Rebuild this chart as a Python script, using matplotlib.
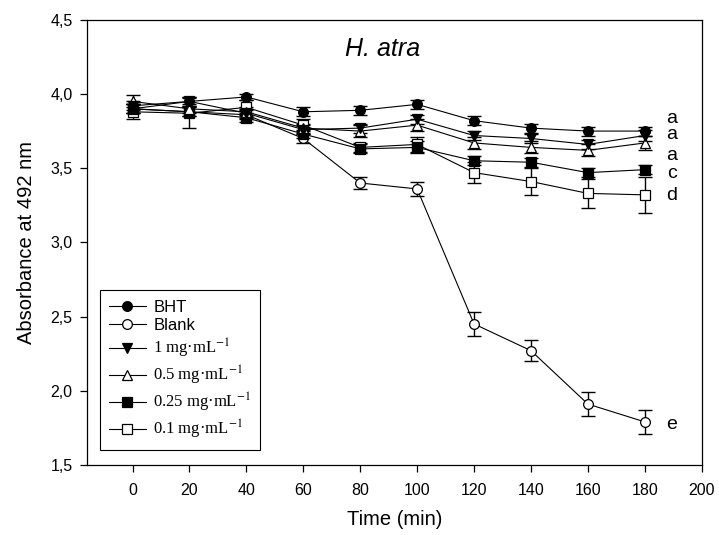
import matplotlib
matplotlib.use("Agg")
import matplotlib.pyplot as plt
import numpy as np

plt.rcParams["font.family"] = ["Liberation Sans", "DejaVu Sans"]
plt.rcParams["mathtext.fontset"] = "stix"

time_min = [0, 20, 40, 60, 80, 100, 120, 140, 160, 180]

bht = [3.90, 3.95, 3.98, 3.88, 3.89, 3.93, 3.82, 3.77, 3.75, 3.75]
blank = [3.90, 3.88, 3.86, 3.70, 3.40, 3.36, 2.45, 2.27, 1.91, 1.79]
mg_1 = [3.92, 3.95, 3.87, 3.76, 3.77, 3.83, 3.72, 3.70, 3.66, 3.72]
mg_05 = [3.95, 3.90, 3.88, 3.77, 3.75, 3.79, 3.67, 3.64, 3.62, 3.67]
mg_025 = [3.90, 3.88, 3.84, 3.73, 3.63, 3.64, 3.55, 3.54, 3.47, 3.49]
mg_01 = [3.88, 3.87, 3.91, 3.79, 3.64, 3.66, 3.47, 3.41, 3.33, 3.32]

bht_err = [0.03, 0.03, 0.02, 0.03, 0.03, 0.03, 0.03, 0.03, 0.03, 0.03]
blank_err = [0.03, 0.03, 0.03, 0.03, 0.04, 0.05, 0.08, 0.07, 0.08, 0.08]
mg_1_err = [0.03, 0.03, 0.03, 0.03, 0.03, 0.03, 0.03, 0.03, 0.03, 0.04]
mg_05_err = [0.04, 0.03, 0.03, 0.03, 0.04, 0.04, 0.04, 0.04, 0.04, 0.05]
mg_025_err = [0.03, 0.03, 0.03, 0.03, 0.03, 0.04, 0.03, 0.03, 0.03, 0.03]
mg_01_err = [0.05, 0.10, 0.05, 0.04, 0.03, 0.05, 0.07, 0.09, 0.10, 0.12]

labels = ["BHT", "Blank", "1 mg·mL$^{-1}$", "0.5 mg·mL$^{-1}$",
          "0.25 mg·mL$^{-1}$", "0.1 mg·mL$^{-1}$"]
markers = ["o", "o", "v", "^", "s", "s"]
face = ["black", "white", "black", "white", "black", "white"]

letters = ["a", "a", "a", "c", "d", "e"]
letter_y = [3.835, 3.73, 3.585, 3.465, 3.315, 1.77]

yticks = [1.5, 2.0, 2.5, 3.0, 3.5, 4.0, 4.5]
xticks = list(range(0, 201, 20))

series = [bht, blank, mg_1, mg_05, mg_025, mg_01]
errors = [bht_err, blank_err, mg_1_err, mg_05_err, mg_025_err, mg_01_err]

fig = plt.figure(figsize=(7.19, 5.35), dpi=100)
ax = fig.add_axes([0.121, 0.131, 0.855, 0.832])

order = [1, 5, 4, 3, 2, 0]
handles = {}
for i in order:
    ax.errorbar(time_min, series[i], yerr=errors[i], fmt="none", ecolor="black",
                elinewidth=1.0, capsize=5, capthick=1.0, zorder=2)
    (h,) = ax.plot(time_min, series[i], color="black", lw=0.8, marker=markers[i],
                   markersize=7, markerfacecolor=face[i], markeredgecolor="black",
                   markeredgewidth=0.9, zorder=3)
    handles[i] = h

leg = ax.legend([handles[i] for i in range(6)], labels, loc="lower left",
                bbox_to_anchor=(0.021, 0.034), borderaxespad=0, fancybox=False,
                edgecolor="black", framealpha=1, fontsize=12, handlelength=2.2,
                labelspacing=0.22, borderpad=0.55, handletextpad=0.45)
leg.get_frame().set_linewidth(0.8)
for t in leg.get_texts()[2:]:
    t.set_fontfamily("Liberation Serif")

for lab, ly in zip(letters, letter_y):
    ax.text(189.5, ly, lab, fontsize=14, ha="center", va="center")

ax.text(0.48, 0.935, "H. atra", transform=ax.transAxes, fontsize=18,
        style="italic", ha="center", va="center")

ax.set_xlim(-16, 200)
ax.set_ylim(1.5, 4.5)
ax.set_xticks(xticks)
ax.set_yticks(yticks)
ax.set_yticklabels([f"{v:.1f}".replace(".", ",") for v in yticks])
ax.tick_params(direction="out", length=5, width=0.9, labelsize=11.5)
ax.tick_params(axis="x", pad=8)
ax.tick_params(axis="y", pad=5.5)
for sp in ax.spines.values():
    sp.set_linewidth(0.9)

ax.set_xlabel("Time (min)", fontsize=14.5, labelpad=9)
ax.set_ylabel("Absorbance at 492 nm", fontsize=14.5, labelpad=10)

fig.savefig("out.png", dpi=100)
